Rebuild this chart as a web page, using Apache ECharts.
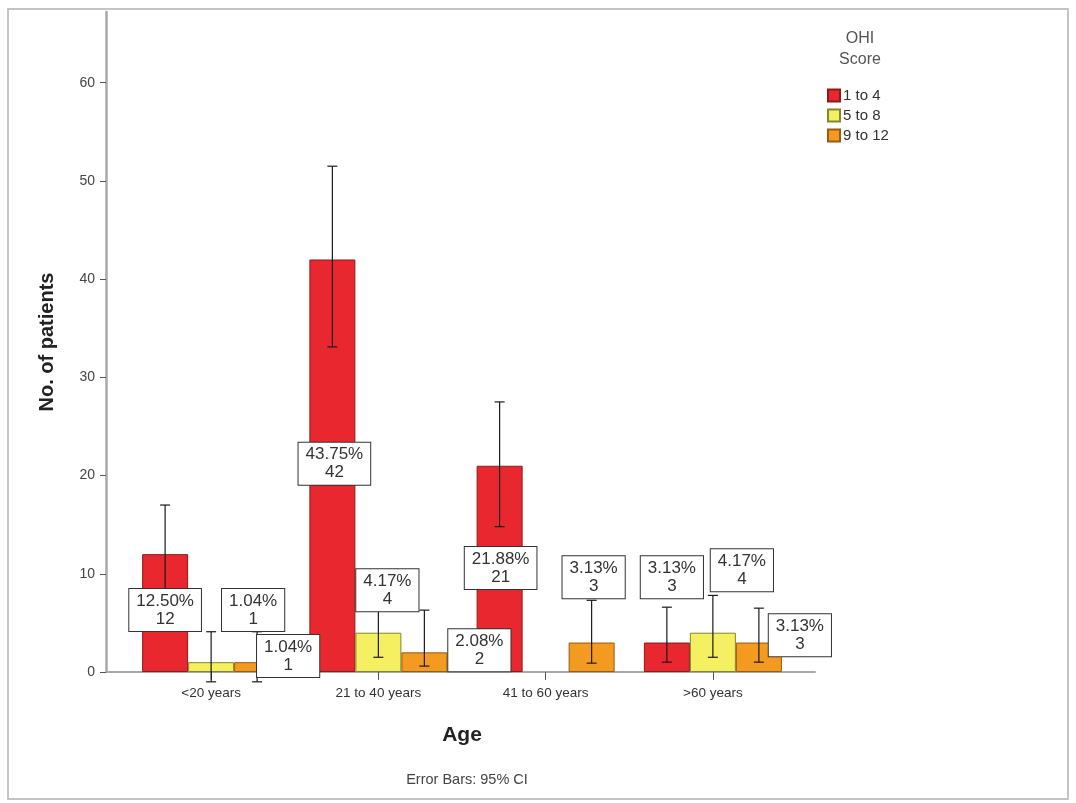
<!DOCTYPE html>
<html>
<head>
<meta charset="utf-8">
<script src="https://cdn.jsdelivr.net/npm/echarts@6/dist/echarts.min.js"></script>
<style>html,body{margin:0;padding:0;background:#fff}#c{width:1076px;height:803px}</style>
</head>
<body>
<div id="c"></div>
<script>
// ---- data ----
const categories = ['<20 years', '21 to 40 years', '41 to 60 years', '>60 years'];
const seriesNames = ['1 to 4', '5 to 8', '9 to 12'];
const ohi1to4 = [12, 42, 21, 3];
const ohi5to8 = [1, 4, 0, 4];
const ohi9to12 = [1, 2, 3, 3];
const ci1to4Low = [7.2, 33.1, 14.8, 1.0];
const ci1to4High = [17.0, 51.5, 27.5, 6.6];
const ci5to8Low = [-1.0, 1.5, null, 1.5];
const ci5to8High = [4.1, 7.8, null, 7.8];
const ci9to12Low = [-1.0, 0.6, 0.9, 1.0];
const ci9to12High = [4.1, 6.3, 7.3, 6.5];
const yTicks = [0, 10, 20, 30, 40, 50, 60];

// ---- layout / style (not data) ----
const labelShift = [
  [[0, -3], [2, -2], [1, -1], [5, -80]],
  [[42, -57], [9, -62], null, [29, -82]],
  [[31, -11], [55, -12], [2, -80], [41, -22]]
];
const colors = ['#e8282e', '#f4f062', '#f29b20'];
const borders = ['#8c1a1a', '#85852a', '#9a5a10'];
const BAR_W = 46;
const FONT = '"Liberation Sans", Arial, sans-serif';

const values = [ohi1to4, ohi5to8, ohi9to12];
const lows = [ci1to4Low, ci5to8Low, ci9to12Low];
const highs = [ci1to4High, ci5to8High, ci9to12High];
const total = values.flat().reduce((a, b) => a + b, 0);

const chart = echarts.init(document.getElementById('c'), null, {renderer: 'canvas'});

const series = [];
values.forEach((vals, s) => {
  series.push({
    name: seriesNames[s], type: 'bar', xAxisIndex: 0, yAxisIndex: 0,
    data: vals.map(v => (v === 0 ? null : v)), barWidth: BAR_W, barGap: '0%', z: 2,
    itemStyle: {color: colors[s], borderColor: borders[s], borderWidth: 1},
    emphasis: {disabled: true}
  });
});
values.forEach((vals, s) => {
  const d = [];
  vals.forEach((v, i) => { if (lows[s][i] != null) d.push([i, lows[s][i], highs[s][i]]); });
  series.push({
    type: 'custom', xAxisIndex: 0, yAxisIndex: 0, z: 3, clip: false, silent: true,
    encode: {x: 0, y: [1, 2]}, data: d,
    renderItem: function (params, api) {
      const i = api.value(0);
      const x = api.coord([i, 0])[0] + (s - 1) * BAR_W;
      const yl = api.coord([i, api.value(1)])[1];
      const yh = api.coord([i, api.value(2)])[1];
      const st = {stroke: '#1a1a1a', lineWidth: 1.2};
      return {type: 'group', children: [
        {type: 'line', shape: {x1: x, y1: yl, x2: x, y2: yh}, style: st},
        {type: 'line', shape: {x1: x - 5, y1: yh, x2: x + 5, y2: yh}, style: st},
        {type: 'line', shape: {x1: x - 5, y1: yl, x2: x + 5, y2: yl}, style: st}
      ]};
    }
  });
});
values.forEach((vals, s) => {
  const d = [];
  vals.forEach((v, i) => { if (v > 0) d.push([i, v]); });
  series.push({
    type: 'custom', xAxisIndex: 0, yAxisIndex: 0, z: 5, clip: false, silent: true,
    encode: {x: 0, y: 1}, data: d,
    renderItem: function (params, api) {
      const i = api.value(0), v = api.value(1);
      const base = api.coord([i, 0]);
      const top = api.coord([i, v]);
      const sh = labelShift[s][i] || [0, 0];
      const cx = base[0] + (s - 1) * BAR_W + sh[0];
      const cy = (base[1] + top[1]) / 2 + sh[1];
      return {type: 'text', x: cx, y: cy, style: {
        text: (v / total * 100).toFixed(2) + '%\n' + v,
        align: 'center', verticalAlign: 'middle',
        fontSize: 17, fontFamily: FONT, lineHeight: 18, fill: '#333',
        backgroundColor: '#fff', borderColor: '#333', borderWidth: 1, padding: [3, 7]
      }};
    }
  });
});

chart.setOption({
  animation: false,
  backgroundColor: '#fff',
  textStyle: {fontFamily: FONT},
  graphic: [{type: 'rect', shape: {x: 8, y: 9, width: 1060, height: 790}, style: {fill: 'none', stroke: '#c4c4c4', lineWidth: 2}, z: -1}],
  title: [
    {text: 'Error Bars: 95% CI', left: 462, top: 767, textAlign: 'center',
     textStyle: {fontSize: 14.5, fontWeight: 'normal', color: '#444', fontFamily: FONT}},
    {text: 'OHI\nScore', left: 855, top: 23, textAlign: 'center',
     textStyle: {fontSize: 16, fontWeight: 'normal', color: '#555', lineHeight: 21, fontFamily: FONT}}
  ],
  legend: {
    data: seriesNames, orient: 'vertical', left: 822, top: 83,
    itemWidth: 12, itemHeight: 12, itemGap: 5, icon: 'rect',
    textStyle: {fontSize: 15, color: '#333', fontFamily: FONT, padding: [0, 0, 0, -2]}
  },
  grid: [
    {left: 127.5, right: 279.5, top: 12, bottom: 131},
    {left: 106, right: 261, top: 12, bottom: 131}
  ],
  xAxis: [
    {type: 'category', data: categories, gridIndex: 0,
     axisLine: {show: false},
     axisTick: {show: true, alignWithLabel: true, length: 8, lineStyle: {color: '#555'}},
     axisLabel: {fontSize: 13.5, color: '#333', margin: 14},
     name: 'Age', nameLocation: 'middle', nameGap: 53,
     nameTextStyle: {fontSize: 21, fontWeight: 'bold', color: '#222'}},
    {type: 'value', gridIndex: 1, min: 0, max: 1,
     axisLine: {show: true, onZero: false, lineStyle: {color: '#a8a8a8', width: 2}},
     axisTick: {show: false}, axisLabel: {show: false}, splitLine: {show: false}}
  ],
  yAxis: [
    {type: 'value', gridIndex: 0, min: 0, max: 67.2, offset: 21.5,
     axisLine: {show: true, lineStyle: {color: '#a8a8a8', width: 2.5}},
     axisTick: {show: true, length: 6, lineStyle: {color: '#555'}, customValues: yTicks},
     axisLabel: {fontSize: 14, color: '#444', margin: 11, customValues: yTicks},
     splitLine: {show: false},
     name: 'No. of patients', nameLocation: 'middle', nameGap: 49,
     nameTextStyle: {fontSize: 20, fontWeight: 'bold', color: '#222'}},
    {type: 'value', gridIndex: 1, show: false, min: 0, max: 1}
  ],
  series: series
});
</script>
</body>
</html>
